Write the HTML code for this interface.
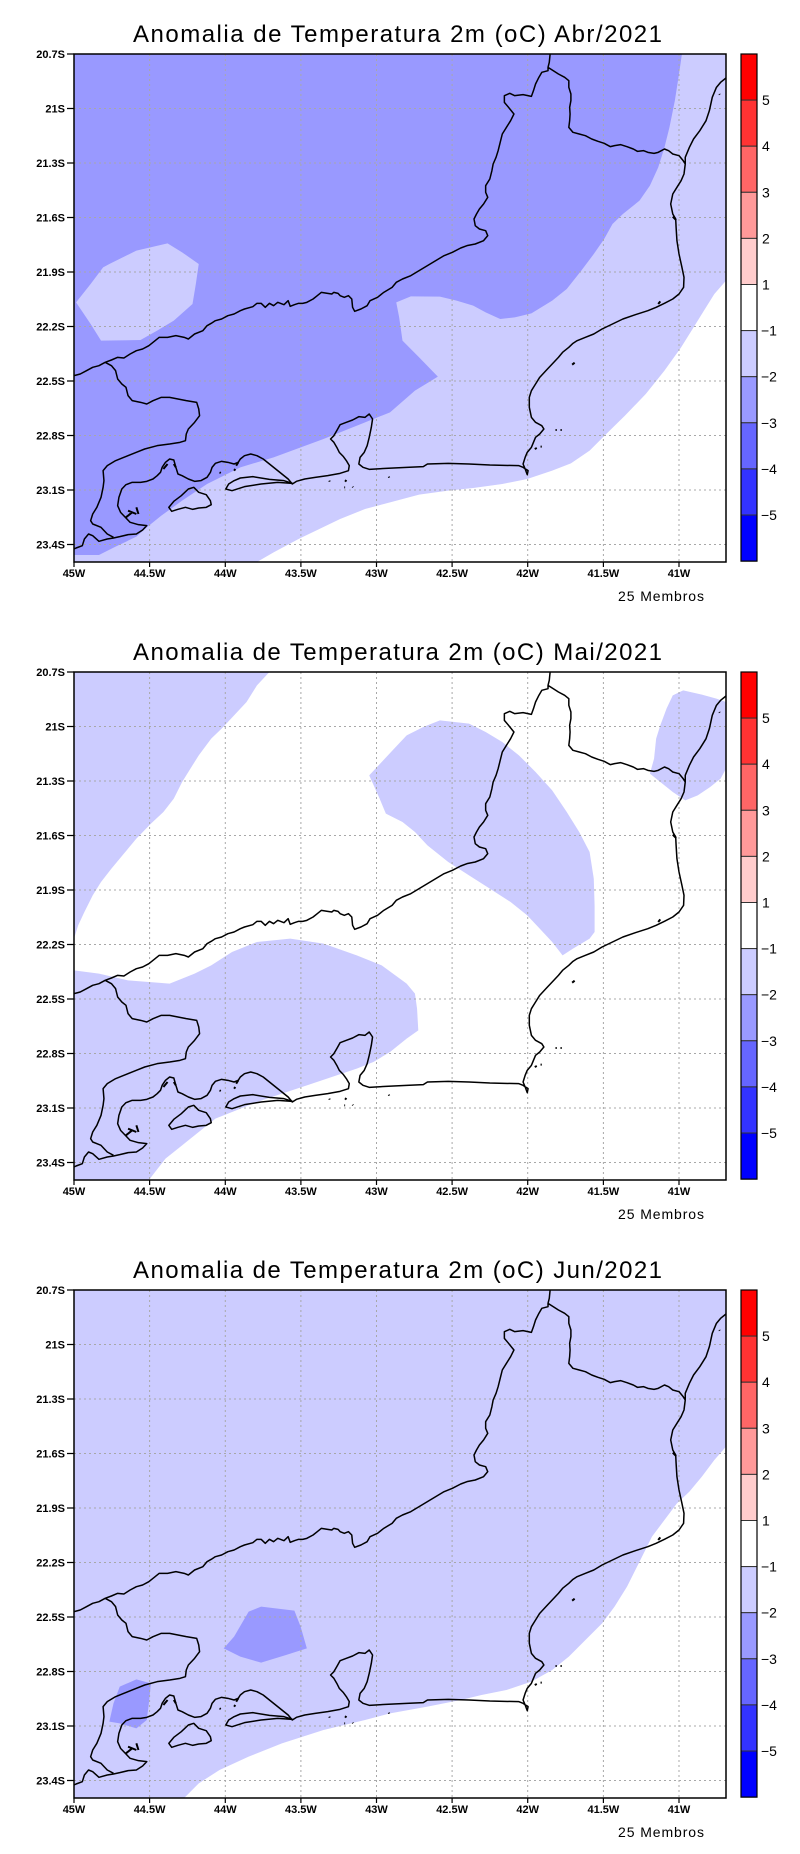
<!DOCTYPE html>
<html>
<head>
<meta charset="utf-8">
<style>
html,body{margin:0;padding:0;background:#fff;}
svg{display:block;}
.t{font-family:"Liberation Sans",sans-serif;}
.ax{font-family:"Liberation Sans",sans-serif;font-size:11px;font-weight:bold;fill:#000;}
.cb{font-family:"Liberation Sans",sans-serif;font-size:14px;fill:#000;}
.grid{fill:none;stroke:#a8a8a8;stroke-width:1;stroke-dasharray:2 3;}
.cl{fill:none;stroke:#000;stroke-width:1.5;vector-effect:non-scaling-stroke;stroke-linejoin:round;}
.dots{fill:none;stroke:#000;stroke-width:2;vector-effect:non-scaling-stroke;}
</style>
</head>
<body>
<svg width="800" height="1854" viewBox="0 0 800 1854" xmlns="http://www.w3.org/2000/svg">
<rect x="0" y="0" width="800" height="1854" fill="#fff"/>

<!-- ================= PANEL 1 ================= -->
<g transform="translate(0,0)">
<text class="t" x="397.5" y="42" font-size="24" text-anchor="middle" textLength="529" lengthAdjust="spacing">Anomalia de Temperatura 2m (oC) Abr/2021</text>
<svg x="74" y="54" width="652" height="508" viewBox="0 0 1568 1524" preserveAspectRatio="none">
<rect x="0" y="0" width="1568" height="1524" fill="#9999ff"/>
<path fill="#ccccff" d="M5,745 L40,690 70,640 85,630 150,590 225,568 260,595 300,630 293,690 285,750 240,800 200,830 160,858 65,860 40,810 Z"/>
<path fill="#ccccff" d="M1462,0 L1568,0 1568,1524 0,1524 0,1503 60,1503 100,1478 150,1448 175,1420 210,1385 260,1340 320,1290 400,1240 480,1210 600,1155 700,1105 760,1075 820,1010 875,968 830,910 790,860 782,790 775,745 810,727 880,728 920,740 960,755 990,775 1025,795 1060,790 1100,778 1150,740 1185,705 1220,650 1250,600 1275,555 1295,510 1320,480 1360,440 1385,395 1405,340 1420,280 1432,220 1445,140 1455,60 Z"/>
<path fill="#ffffff" d="M1568,680 L1540,720 1515,770 1490,820 1460,880 1420,950 1375,1020 1325,1085 1280,1140 1240,1190 1195,1228 1150,1250 1090,1275 1030,1290 960,1302 900,1310 830,1322 760,1345 700,1365 640,1395 590,1425 540,1455 480,1495 440,1524 1568,1524 Z"/>
</svg>
<path class="grid" d="M149.6,54V562 M225.3,54V562 M300.9,54V562 M376.5,54V562 M452.1,54V562 M527.7,54V562 M603.4,54V562 M679,54V562 M74,108.5H726 M74,163H726 M74,217.5H726 M74,272H726 M74,326.5H726 M74,381H726 M74,435.5H726 M74,490H726 M74,544.5H726"/>
<svg x="74" y="54" width="652" height="508" viewBox="0 0 1568 1524" preserveAspectRatio="none">
<path class="cl" d="M0,965 L15,960 30,950 45,940 60,935 75,925 90,918 105,910 120,912 135,900 150,890 165,885 180,875 195,860 205,850 225,850 245,845 265,850 275,855 290,840 310,830 320,815 330,808 340,800 355,795 370,785 385,780 400,770 410,765 430,758 440,748 450,748 460,760 470,748 480,755 490,745 505,752 515,740 520,757 530,752 540,748 550,748 560,745 575,735 585,725 595,715 610,718 620,720 625,715 635,718 640,725 650,730 660,725 668,735 670,760 675,772 690,765 705,755 712,740 730,730 745,715 765,700 775,685 790,675 810,665 830,650 850,635 870,620 890,605 910,595 930,582 945,575 965,570 985,560 995,545 990,530 975,525 965,515 962,495 968,480 975,465 985,450 995,430 990,415 990,395 1000,375 1005,350 1008,330 1015,310 1020,290 1025,265 1030,240 1040,220 1050,200 1058,180 1045,160 1035,145 1035,125 1048,118 1060,125 1080,122 1100,127 1105,110 1110,90 1118,70 1125,55 1140,50 1140,40 1143,25 1145,0 M1140,40 L1150,48 1165,60 1180,70 1190,80 1190,100 1195,120 1195,140 1192,160 1193,180 1192,200 1190,220 1200,235 1215,240 1230,245 1245,255 1260,262 1275,268 1290,278 1300,275 1315,272 1330,278 1345,285 1355,292 1370,290 1380,295 1395,298 1405,295 1420,285 1430,290 1440,300 1455,305 1465,320 1470,330"/>
<path class="cl" d="M1568,72 L1555,85 1545,100 1535,130 1528,170 1520,200 1505,230 1490,255 1480,280 1470,310 1470,330 1467,360 1460,380 1450,400 1440,420 1435,450 1440,480 1447,495 1448,520 1450,560 1455,600 1462,640 1467,670 1466,700 1455,720 1440,735 1420,748 1400,760 1380,770 1350,782 1320,795 1295,810 1270,825 1250,840 1230,850 1210,860 1200,868 1190,880 1175,895 1165,910 1150,930 1135,950 1120,970 1110,990 1100,1010 1095,1030 1095,1060 1100,1090 1110,1105 1125,1115 1130,1125 1120,1140 1110,1150 1105,1165 1100,1180 1090,1195 1085,1210 1080,1230 1085,1245 1090,1262 1092,1250 1080,1240 1070,1235 1000,1233 950,1230 900,1228 850,1230 840,1238 800,1240 750,1243 710,1246 695,1240 685,1230 688,1210 698,1195 705,1175 710,1150 715,1120 718,1095 710,1080 700,1090 685,1088 670,1098 655,1105 640,1112 632,1130 625,1145 617,1155 625,1165 632,1180 638,1195 648,1208 655,1220 662,1235 660,1250 640,1258 610,1265 580,1270 555,1275 535,1282 525,1290 515,1275 500,1260 485,1245 470,1230 455,1215 440,1205 425,1200 410,1205 400,1215 395,1225 385,1230 370,1225 355,1222 340,1228 332,1240 328,1255 320,1270 305,1280 290,1282 275,1275 260,1265 250,1260 245,1240 240,1218 230,1215 220,1225 212,1240 208,1255 200,1265 190,1275 175,1282 160,1285 140,1285 125,1292 115,1305 108,1330 105,1355 112,1375 125,1392 135,1405 155,1412 175,1415 165,1428 150,1440 130,1442 110,1448 95,1452 80,1455 60,1462 45,1445 35,1440 25,1455 20,1475 5,1482 0,1485"/>
<path class="cl" d="M365,1305 L372,1290 385,1280 400,1272 430,1268 470,1276 505,1280 525,1288 490,1285 450,1290 410,1298 380,1310 Z"/>
<path class="cl" d="M228,1360 L240,1342 258,1325 275,1305 288,1300 300,1315 318,1322 328,1340 330,1352 318,1360 300,1362 285,1366 268,1360 250,1366 235,1372 Z"/>
<path class="cl" d="M75,925 L90,935 100,950 105,975 115,990 125,1000 130,1025 140,1040 160,1045 175,1050 190,1040 210,1030 230,1030 250,1035 270,1040 295,1045 300,1065 302,1085 290,1105 275,1125 270,1140 268,1160 255,1165 230,1170 200,1175 170,1185 150,1195 120,1210 100,1220 80,1235 70,1250 72,1280 70,1300 65,1330 55,1360 45,1380 40,1400 45,1410 65,1420 80,1440 95,1450"/>
<path class="dots" d="M1198,932 l6,-6 M1158,1128 l3,0 M1170,1128 l3,0 M1108,1185 l5,-3 M1122,1178 l3,0 M757,1268 l1,3 M655,1278 l-3,5 M650,1300 l2,0 M670,1298 l1,2 M614,1280 l1,3 M1552,120 l1,2 M1440,488 l8,10 M1405,750 l5,-8 M350,1255 l3,2 M385,1250 l3,-5 M395,1225 l-5,10 M215,1245 l10,-15 M240,1230 l5,10 M130,1370 l20,10 M125,1390 l15,-15 M150,1360 l5,20"/>
</svg>
<rect x="74" y="54" width="652" height="508" fill="none" stroke="#000" stroke-width="1.5"/>
<path stroke="#000" stroke-width="1.2" fill="none" d="M67,54H74 M67,108.5H74 M67,163H74 M67,217.5H74 M67,272H74 M67,326.5H74 M67,381H74 M67,435.5H74 M67,490H74 M67,544.5H74 M74,562V567 M149.6,562V567 M225.3,562V567 M300.9,562V567 M376.5,562V567 M452.1,562V567 M527.7,562V567 M603.4,562V567 M679,562V567"/>
<g class="ax" text-anchor="end">
<text x="65" y="57.8">20.7S</text><text x="65" y="112.3">21S</text><text x="65" y="166.8">21.3S</text><text x="65" y="221.3">21.6S</text><text x="65" y="275.8">21.9S</text><text x="65" y="330.3">22.2S</text><text x="65" y="384.8">22.5S</text><text x="65" y="439.3">22.8S</text><text x="65" y="493.8">23.1S</text><text x="65" y="548.3">23.4S</text>
</g>
<g class="ax" text-anchor="middle">
<text x="74" y="577">45W</text><text x="149.6" y="577">44.5W</text><text x="225.3" y="577">44W</text><text x="300.9" y="577">43.5W</text><text x="376.5" y="577">43W</text><text x="452.1" y="577">42.5W</text><text x="527.7" y="577">42W</text><text x="603.4" y="577">41.5W</text><text x="679" y="577">41W</text>
</g>
<g stroke="#333" stroke-width="1">
<rect x="741" y="54" width="16" height="46.1" fill="#ff0000"/>
<rect x="741" y="100.1" width="16" height="46.1" fill="#ff3333"/>
<rect x="741" y="146.2" width="16" height="46.1" fill="#ff6666"/>
<rect x="741" y="192.3" width="16" height="46.1" fill="#ff9999"/>
<rect x="741" y="238.4" width="16" height="46.1" fill="#ffcccc"/>
<rect x="741" y="284.5" width="16" height="46.1" fill="#ffffff"/>
<rect x="741" y="330.6" width="16" height="46.1" fill="#ccccff"/>
<rect x="741" y="376.7" width="16" height="46.1" fill="#9999ff"/>
<rect x="741" y="422.8" width="16" height="46.1" fill="#6666ff"/>
<rect x="741" y="468.9" width="16" height="46.1" fill="#3333ff"/>
<rect x="741" y="515" width="16" height="46.1" fill="#0000ff"/>
</g>
<rect x="741" y="54" width="16" height="507.1" fill="none" stroke="#000" stroke-width="1.2"/>
<g class="cb">
<text x="762" y="105.1">5</text><text x="762" y="151.2">4</text><text x="762" y="197.3">3</text><text x="762" y="243.4">2</text><text x="762" y="289.5">1</text><text x="761" y="335.6">−1</text><text x="761" y="381.7">−2</text><text x="761" y="427.8">−3</text><text x="761" y="473.9">−4</text><text x="761" y="520">−5</text>
</g>
<text class="t" x="618" y="601" font-size="14" textLength="86" lengthAdjust="spacing">25 Membros</text>
</g>

<!-- ================= PANEL 2 ================= -->
<g transform="translate(0,618)">
<text class="t" x="397.5" y="42" font-size="24" text-anchor="middle" textLength="529" lengthAdjust="spacing">Anomalia de Temperatura 2m (oC) Mai/2021</text>
<svg x="74" y="54" width="652" height="508" viewBox="0 0 1568 1524" preserveAspectRatio="none">
<rect x="0" y="0" width="1568" height="1524" fill="#ffffff"/>
<path fill="#ccccff" d="M0,0 L470,0 440,40 415,90 385,130 355,170 330,200 300,250 280,290 260,330 240,380 215,420 185,455 150,500 120,545 90,590 65,630 45,670 25,720 10,760 0,800 Z"/>
<path fill="#ccccff" d="M710,310 L740,270 770,230 800,190 840,165 880,145 950,155 990,180 1030,210 1070,250 1110,300 1150,355 1185,420 1215,480 1240,540 1250,620 1252,700 1252,780 1240,800 1200,830 1175,850 1150,810 1120,770 1090,730 1050,690 1000,650 950,610 900,570 850,520 820,480 790,450 750,425 735,380 Z"/>
<path fill="#ccccff" d="M1385,305 L1395,260 1400,200 1410,160 1425,110 1440,70 1465,55 1510,68 1545,80 1568,90 1568,290 1555,320 1530,345 1500,370 1470,385 1440,360 1410,330 Z"/>
<path fill="#ccccff" d="M0,895 L60,905 130,925 230,935 290,905 330,880 380,840 440,810 520,800 600,815 680,850 740,880 800,935 820,965 825,1010 828,1075 800,1100 760,1140 720,1170 680,1190 620,1215 560,1240 500,1265 440,1290 390,1315 340,1340 300,1380 260,1420 220,1460 180,1524 0,1524 Z"/>
</svg>
<path class="grid" d="M149.6,54V562 M225.3,54V562 M300.9,54V562 M376.5,54V562 M452.1,54V562 M527.7,54V562 M603.4,54V562 M679,54V562 M74,108.5H726 M74,163H726 M74,217.5H726 M74,272H726 M74,326.5H726 M74,381H726 M74,435.5H726 M74,490H726 M74,544.5H726"/>
<svg x="74" y="54" width="652" height="508" viewBox="0 0 1568 1524" preserveAspectRatio="none">
<path class="cl" d="M0,965 L15,960 30,950 45,940 60,935 75,925 90,918 105,910 120,912 135,900 150,890 165,885 180,875 195,860 205,850 225,850 245,845 265,850 275,855 290,840 310,830 320,815 330,808 340,800 355,795 370,785 385,780 400,770 410,765 430,758 440,748 450,748 460,760 470,748 480,755 490,745 505,752 515,740 520,757 530,752 540,748 550,748 560,745 575,735 585,725 595,715 610,718 620,720 625,715 635,718 640,725 650,730 660,725 668,735 670,760 675,772 690,765 705,755 712,740 730,730 745,715 765,700 775,685 790,675 810,665 830,650 850,635 870,620 890,605 910,595 930,582 945,575 965,570 985,560 995,545 990,530 975,525 965,515 962,495 968,480 975,465 985,450 995,430 990,415 990,395 1000,375 1005,350 1008,330 1015,310 1020,290 1025,265 1030,240 1040,220 1050,200 1058,180 1045,160 1035,145 1035,125 1048,118 1060,125 1080,122 1100,127 1105,110 1110,90 1118,70 1125,55 1140,50 1140,40 1143,25 1145,0 M1140,40 L1150,48 1165,60 1180,70 1190,80 1190,100 1195,120 1195,140 1192,160 1193,180 1192,200 1190,220 1200,235 1215,240 1230,245 1245,255 1260,262 1275,268 1290,278 1300,275 1315,272 1330,278 1345,285 1355,292 1370,290 1380,295 1395,298 1405,295 1420,285 1430,290 1440,300 1455,305 1465,320 1470,330"/>
<path class="cl" d="M1568,72 L1555,85 1545,100 1535,130 1528,170 1520,200 1505,230 1490,255 1480,280 1470,310 1470,330 1467,360 1460,380 1450,400 1440,420 1435,450 1440,480 1447,495 1448,520 1450,560 1455,600 1462,640 1467,670 1466,700 1455,720 1440,735 1420,748 1400,760 1380,770 1350,782 1320,795 1295,810 1270,825 1250,840 1230,850 1210,860 1200,868 1190,880 1175,895 1165,910 1150,930 1135,950 1120,970 1110,990 1100,1010 1095,1030 1095,1060 1100,1090 1110,1105 1125,1115 1130,1125 1120,1140 1110,1150 1105,1165 1100,1180 1090,1195 1085,1210 1080,1230 1085,1245 1090,1262 1092,1250 1080,1240 1070,1235 1000,1233 950,1230 900,1228 850,1230 840,1238 800,1240 750,1243 710,1246 695,1240 685,1230 688,1210 698,1195 705,1175 710,1150 715,1120 718,1095 710,1080 700,1090 685,1088 670,1098 655,1105 640,1112 632,1130 625,1145 617,1155 625,1165 632,1180 638,1195 648,1208 655,1220 662,1235 660,1250 640,1258 610,1265 580,1270 555,1275 535,1282 525,1290 515,1275 500,1260 485,1245 470,1230 455,1215 440,1205 425,1200 410,1205 400,1215 395,1225 385,1230 370,1225 355,1222 340,1228 332,1240 328,1255 320,1270 305,1280 290,1282 275,1275 260,1265 250,1260 245,1240 240,1218 230,1215 220,1225 212,1240 208,1255 200,1265 190,1275 175,1282 160,1285 140,1285 125,1292 115,1305 108,1330 105,1355 112,1375 125,1392 135,1405 155,1412 175,1415 165,1428 150,1440 130,1442 110,1448 95,1452 80,1455 60,1462 45,1445 35,1440 25,1455 20,1475 5,1482 0,1485"/>
<path class="cl" d="M365,1305 L372,1290 385,1280 400,1272 430,1268 470,1276 505,1280 525,1288 490,1285 450,1290 410,1298 380,1310 Z"/>
<path class="cl" d="M228,1360 L240,1342 258,1325 275,1305 288,1300 300,1315 318,1322 328,1340 330,1352 318,1360 300,1362 285,1366 268,1360 250,1366 235,1372 Z"/>
<path class="cl" d="M75,925 L90,935 100,950 105,975 115,990 125,1000 130,1025 140,1040 160,1045 175,1050 190,1040 210,1030 230,1030 250,1035 270,1040 295,1045 300,1065 302,1085 290,1105 275,1125 270,1140 268,1160 255,1165 230,1170 200,1175 170,1185 150,1195 120,1210 100,1220 80,1235 70,1250 72,1280 70,1300 65,1330 55,1360 45,1380 40,1400 45,1410 65,1420 80,1440 95,1450"/>
<path class="dots" d="M1198,932 l6,-6 M1158,1128 l3,0 M1170,1128 l3,0 M1108,1185 l5,-3 M1122,1178 l3,0 M757,1268 l1,3 M655,1278 l-3,5 M650,1300 l2,0 M670,1298 l1,2 M614,1280 l1,3 M1552,120 l1,2 M1440,488 l8,10 M1405,750 l5,-8 M350,1255 l3,2 M385,1250 l3,-5 M395,1225 l-5,10 M215,1245 l10,-15 M240,1230 l5,10 M130,1370 l20,10 M125,1390 l15,-15 M150,1360 l5,20"/>
</svg>
<rect x="74" y="54" width="652" height="508" fill="none" stroke="#000" stroke-width="1.5"/>
<path stroke="#000" stroke-width="1.2" fill="none" d="M67,54H74 M67,108.5H74 M67,163H74 M67,217.5H74 M67,272H74 M67,326.5H74 M67,381H74 M67,435.5H74 M67,490H74 M67,544.5H74 M74,562V567 M149.6,562V567 M225.3,562V567 M300.9,562V567 M376.5,562V567 M452.1,562V567 M527.7,562V567 M603.4,562V567 M679,562V567"/>
<g class="ax" text-anchor="end">
<text x="65" y="57.8">20.7S</text><text x="65" y="112.3">21S</text><text x="65" y="166.8">21.3S</text><text x="65" y="221.3">21.6S</text><text x="65" y="275.8">21.9S</text><text x="65" y="330.3">22.2S</text><text x="65" y="384.8">22.5S</text><text x="65" y="439.3">22.8S</text><text x="65" y="493.8">23.1S</text><text x="65" y="548.3">23.4S</text>
</g>
<g class="ax" text-anchor="middle">
<text x="74" y="577">45W</text><text x="149.6" y="577">44.5W</text><text x="225.3" y="577">44W</text><text x="300.9" y="577">43.5W</text><text x="376.5" y="577">43W</text><text x="452.1" y="577">42.5W</text><text x="527.7" y="577">42W</text><text x="603.4" y="577">41.5W</text><text x="679" y="577">41W</text>
</g>
<g stroke="#333" stroke-width="1">
<rect x="741" y="54" width="16" height="46.1" fill="#ff0000"/>
<rect x="741" y="100.1" width="16" height="46.1" fill="#ff3333"/>
<rect x="741" y="146.2" width="16" height="46.1" fill="#ff6666"/>
<rect x="741" y="192.3" width="16" height="46.1" fill="#ff9999"/>
<rect x="741" y="238.4" width="16" height="46.1" fill="#ffcccc"/>
<rect x="741" y="284.5" width="16" height="46.1" fill="#ffffff"/>
<rect x="741" y="330.6" width="16" height="46.1" fill="#ccccff"/>
<rect x="741" y="376.7" width="16" height="46.1" fill="#9999ff"/>
<rect x="741" y="422.8" width="16" height="46.1" fill="#6666ff"/>
<rect x="741" y="468.9" width="16" height="46.1" fill="#3333ff"/>
<rect x="741" y="515" width="16" height="46.1" fill="#0000ff"/>
</g>
<rect x="741" y="54" width="16" height="507.1" fill="none" stroke="#000" stroke-width="1.2"/>
<g class="cb">
<text x="762" y="105.1">5</text><text x="762" y="151.2">4</text><text x="762" y="197.3">3</text><text x="762" y="243.4">2</text><text x="762" y="289.5">1</text><text x="761" y="335.6">−1</text><text x="761" y="381.7">−2</text><text x="761" y="427.8">−3</text><text x="761" y="473.9">−4</text><text x="761" y="520">−5</text>
</g>
<text class="t" x="618" y="601" font-size="14" textLength="86" lengthAdjust="spacing">25 Membros</text>
</g>

<!-- ================= PANEL 3 ================= -->
<g transform="translate(0,1236)">
<text class="t" x="397.5" y="42" font-size="24" text-anchor="middle" textLength="529" lengthAdjust="spacing">Anomalia de Temperatura 2m (oC) Jun/2021</text>
<svg x="74" y="54" width="652" height="508" viewBox="0 0 1568 1524" preserveAspectRatio="none">
<rect x="0" y="0" width="1568" height="1524" fill="#ccccff"/>
<path fill="#ffffff" d="M1568,470 L1540,510 1510,560 1480,605 1450,640 1420,690 1390,740 1370,790 1350,840 1330,890 1300,950 1270,1000 1230,1050 1190,1100 1150,1140 1100,1175 1040,1200 980,1215 930,1230 850,1250 760,1270 700,1290 600,1320 500,1360 420,1400 350,1440 300,1480 265,1524 1568,1524 Z"/>
<path fill="#9999ff" d="M360,1075 L385,1040 420,965 450,950 530,962 545,1010 560,1075 510,1095 450,1118 400,1100 Z"/>
<path fill="#9999ff" d="M85,1295 L95,1240 110,1190 150,1168 185,1180 180,1240 175,1290 150,1315 110,1300 Z"/>
</svg>
<path class="grid" d="M149.6,54V562 M225.3,54V562 M300.9,54V562 M376.5,54V562 M452.1,54V562 M527.7,54V562 M603.4,54V562 M679,54V562 M74,108.5H726 M74,163H726 M74,217.5H726 M74,272H726 M74,326.5H726 M74,381H726 M74,435.5H726 M74,490H726 M74,544.5H726"/>
<svg x="74" y="54" width="652" height="508" viewBox="0 0 1568 1524" preserveAspectRatio="none">
<path class="cl" d="M0,965 L15,960 30,950 45,940 60,935 75,925 90,918 105,910 120,912 135,900 150,890 165,885 180,875 195,860 205,850 225,850 245,845 265,850 275,855 290,840 310,830 320,815 330,808 340,800 355,795 370,785 385,780 400,770 410,765 430,758 440,748 450,748 460,760 470,748 480,755 490,745 505,752 515,740 520,757 530,752 540,748 550,748 560,745 575,735 585,725 595,715 610,718 620,720 625,715 635,718 640,725 650,730 660,725 668,735 670,760 675,772 690,765 705,755 712,740 730,730 745,715 765,700 775,685 790,675 810,665 830,650 850,635 870,620 890,605 910,595 930,582 945,575 965,570 985,560 995,545 990,530 975,525 965,515 962,495 968,480 975,465 985,450 995,430 990,415 990,395 1000,375 1005,350 1008,330 1015,310 1020,290 1025,265 1030,240 1040,220 1050,200 1058,180 1045,160 1035,145 1035,125 1048,118 1060,125 1080,122 1100,127 1105,110 1110,90 1118,70 1125,55 1140,50 1140,40 1143,25 1145,0 M1140,40 L1150,48 1165,60 1180,70 1190,80 1190,100 1195,120 1195,140 1192,160 1193,180 1192,200 1190,220 1200,235 1215,240 1230,245 1245,255 1260,262 1275,268 1290,278 1300,275 1315,272 1330,278 1345,285 1355,292 1370,290 1380,295 1395,298 1405,295 1420,285 1430,290 1440,300 1455,305 1465,320 1470,330"/>
<path class="cl" d="M1568,72 L1555,85 1545,100 1535,130 1528,170 1520,200 1505,230 1490,255 1480,280 1470,310 1470,330 1467,360 1460,380 1450,400 1440,420 1435,450 1440,480 1447,495 1448,520 1450,560 1455,600 1462,640 1467,670 1466,700 1455,720 1440,735 1420,748 1400,760 1380,770 1350,782 1320,795 1295,810 1270,825 1250,840 1230,850 1210,860 1200,868 1190,880 1175,895 1165,910 1150,930 1135,950 1120,970 1110,990 1100,1010 1095,1030 1095,1060 1100,1090 1110,1105 1125,1115 1130,1125 1120,1140 1110,1150 1105,1165 1100,1180 1090,1195 1085,1210 1080,1230 1085,1245 1090,1262 1092,1250 1080,1240 1070,1235 1000,1233 950,1230 900,1228 850,1230 840,1238 800,1240 750,1243 710,1246 695,1240 685,1230 688,1210 698,1195 705,1175 710,1150 715,1120 718,1095 710,1080 700,1090 685,1088 670,1098 655,1105 640,1112 632,1130 625,1145 617,1155 625,1165 632,1180 638,1195 648,1208 655,1220 662,1235 660,1250 640,1258 610,1265 580,1270 555,1275 535,1282 525,1290 515,1275 500,1260 485,1245 470,1230 455,1215 440,1205 425,1200 410,1205 400,1215 395,1225 385,1230 370,1225 355,1222 340,1228 332,1240 328,1255 320,1270 305,1280 290,1282 275,1275 260,1265 250,1260 245,1240 240,1218 230,1215 220,1225 212,1240 208,1255 200,1265 190,1275 175,1282 160,1285 140,1285 125,1292 115,1305 108,1330 105,1355 112,1375 125,1392 135,1405 155,1412 175,1415 165,1428 150,1440 130,1442 110,1448 95,1452 80,1455 60,1462 45,1445 35,1440 25,1455 20,1475 5,1482 0,1485"/>
<path class="cl" d="M365,1305 L372,1290 385,1280 400,1272 430,1268 470,1276 505,1280 525,1288 490,1285 450,1290 410,1298 380,1310 Z"/>
<path class="cl" d="M228,1360 L240,1342 258,1325 275,1305 288,1300 300,1315 318,1322 328,1340 330,1352 318,1360 300,1362 285,1366 268,1360 250,1366 235,1372 Z"/>
<path class="cl" d="M75,925 L90,935 100,950 105,975 115,990 125,1000 130,1025 140,1040 160,1045 175,1050 190,1040 210,1030 230,1030 250,1035 270,1040 295,1045 300,1065 302,1085 290,1105 275,1125 270,1140 268,1160 255,1165 230,1170 200,1175 170,1185 150,1195 120,1210 100,1220 80,1235 70,1250 72,1280 70,1300 65,1330 55,1360 45,1380 40,1400 45,1410 65,1420 80,1440 95,1450"/>
<path class="dots" d="M1198,932 l6,-6 M1158,1128 l3,0 M1170,1128 l3,0 M1108,1185 l5,-3 M1122,1178 l3,0 M757,1268 l1,3 M655,1278 l-3,5 M650,1300 l2,0 M670,1298 l1,2 M614,1280 l1,3 M1552,120 l1,2 M1440,488 l8,10 M1405,750 l5,-8 M350,1255 l3,2 M385,1250 l3,-5 M395,1225 l-5,10 M215,1245 l10,-15 M240,1230 l5,10 M130,1370 l20,10 M125,1390 l15,-15 M150,1360 l5,20"/>
</svg>
<rect x="74" y="54" width="652" height="508" fill="none" stroke="#000" stroke-width="1.5"/>
<path stroke="#000" stroke-width="1.2" fill="none" d="M67,54H74 M67,108.5H74 M67,163H74 M67,217.5H74 M67,272H74 M67,326.5H74 M67,381H74 M67,435.5H74 M67,490H74 M67,544.5H74 M74,562V567 M149.6,562V567 M225.3,562V567 M300.9,562V567 M376.5,562V567 M452.1,562V567 M527.7,562V567 M603.4,562V567 M679,562V567"/>
<g class="ax" text-anchor="end">
<text x="65" y="57.8">20.7S</text><text x="65" y="112.3">21S</text><text x="65" y="166.8">21.3S</text><text x="65" y="221.3">21.6S</text><text x="65" y="275.8">21.9S</text><text x="65" y="330.3">22.2S</text><text x="65" y="384.8">22.5S</text><text x="65" y="439.3">22.8S</text><text x="65" y="493.8">23.1S</text><text x="65" y="548.3">23.4S</text>
</g>
<g class="ax" text-anchor="middle">
<text x="74" y="577">45W</text><text x="149.6" y="577">44.5W</text><text x="225.3" y="577">44W</text><text x="300.9" y="577">43.5W</text><text x="376.5" y="577">43W</text><text x="452.1" y="577">42.5W</text><text x="527.7" y="577">42W</text><text x="603.4" y="577">41.5W</text><text x="679" y="577">41W</text>
</g>
<g stroke="#333" stroke-width="1">
<rect x="741" y="54" width="16" height="46.1" fill="#ff0000"/>
<rect x="741" y="100.1" width="16" height="46.1" fill="#ff3333"/>
<rect x="741" y="146.2" width="16" height="46.1" fill="#ff6666"/>
<rect x="741" y="192.3" width="16" height="46.1" fill="#ff9999"/>
<rect x="741" y="238.4" width="16" height="46.1" fill="#ffcccc"/>
<rect x="741" y="284.5" width="16" height="46.1" fill="#ffffff"/>
<rect x="741" y="330.6" width="16" height="46.1" fill="#ccccff"/>
<rect x="741" y="376.7" width="16" height="46.1" fill="#9999ff"/>
<rect x="741" y="422.8" width="16" height="46.1" fill="#6666ff"/>
<rect x="741" y="468.9" width="16" height="46.1" fill="#3333ff"/>
<rect x="741" y="515" width="16" height="46.1" fill="#0000ff"/>
</g>
<rect x="741" y="54" width="16" height="507.1" fill="none" stroke="#000" stroke-width="1.2"/>
<g class="cb">
<text x="762" y="105.1">5</text><text x="762" y="151.2">4</text><text x="762" y="197.3">3</text><text x="762" y="243.4">2</text><text x="762" y="289.5">1</text><text x="761" y="335.6">−1</text><text x="761" y="381.7">−2</text><text x="761" y="427.8">−3</text><text x="761" y="473.9">−4</text><text x="761" y="520">−5</text>
</g>
<text class="t" x="618" y="601" font-size="14" textLength="86" lengthAdjust="spacing">25 Membros</text>
</g>
</svg>
</body>
</html>
